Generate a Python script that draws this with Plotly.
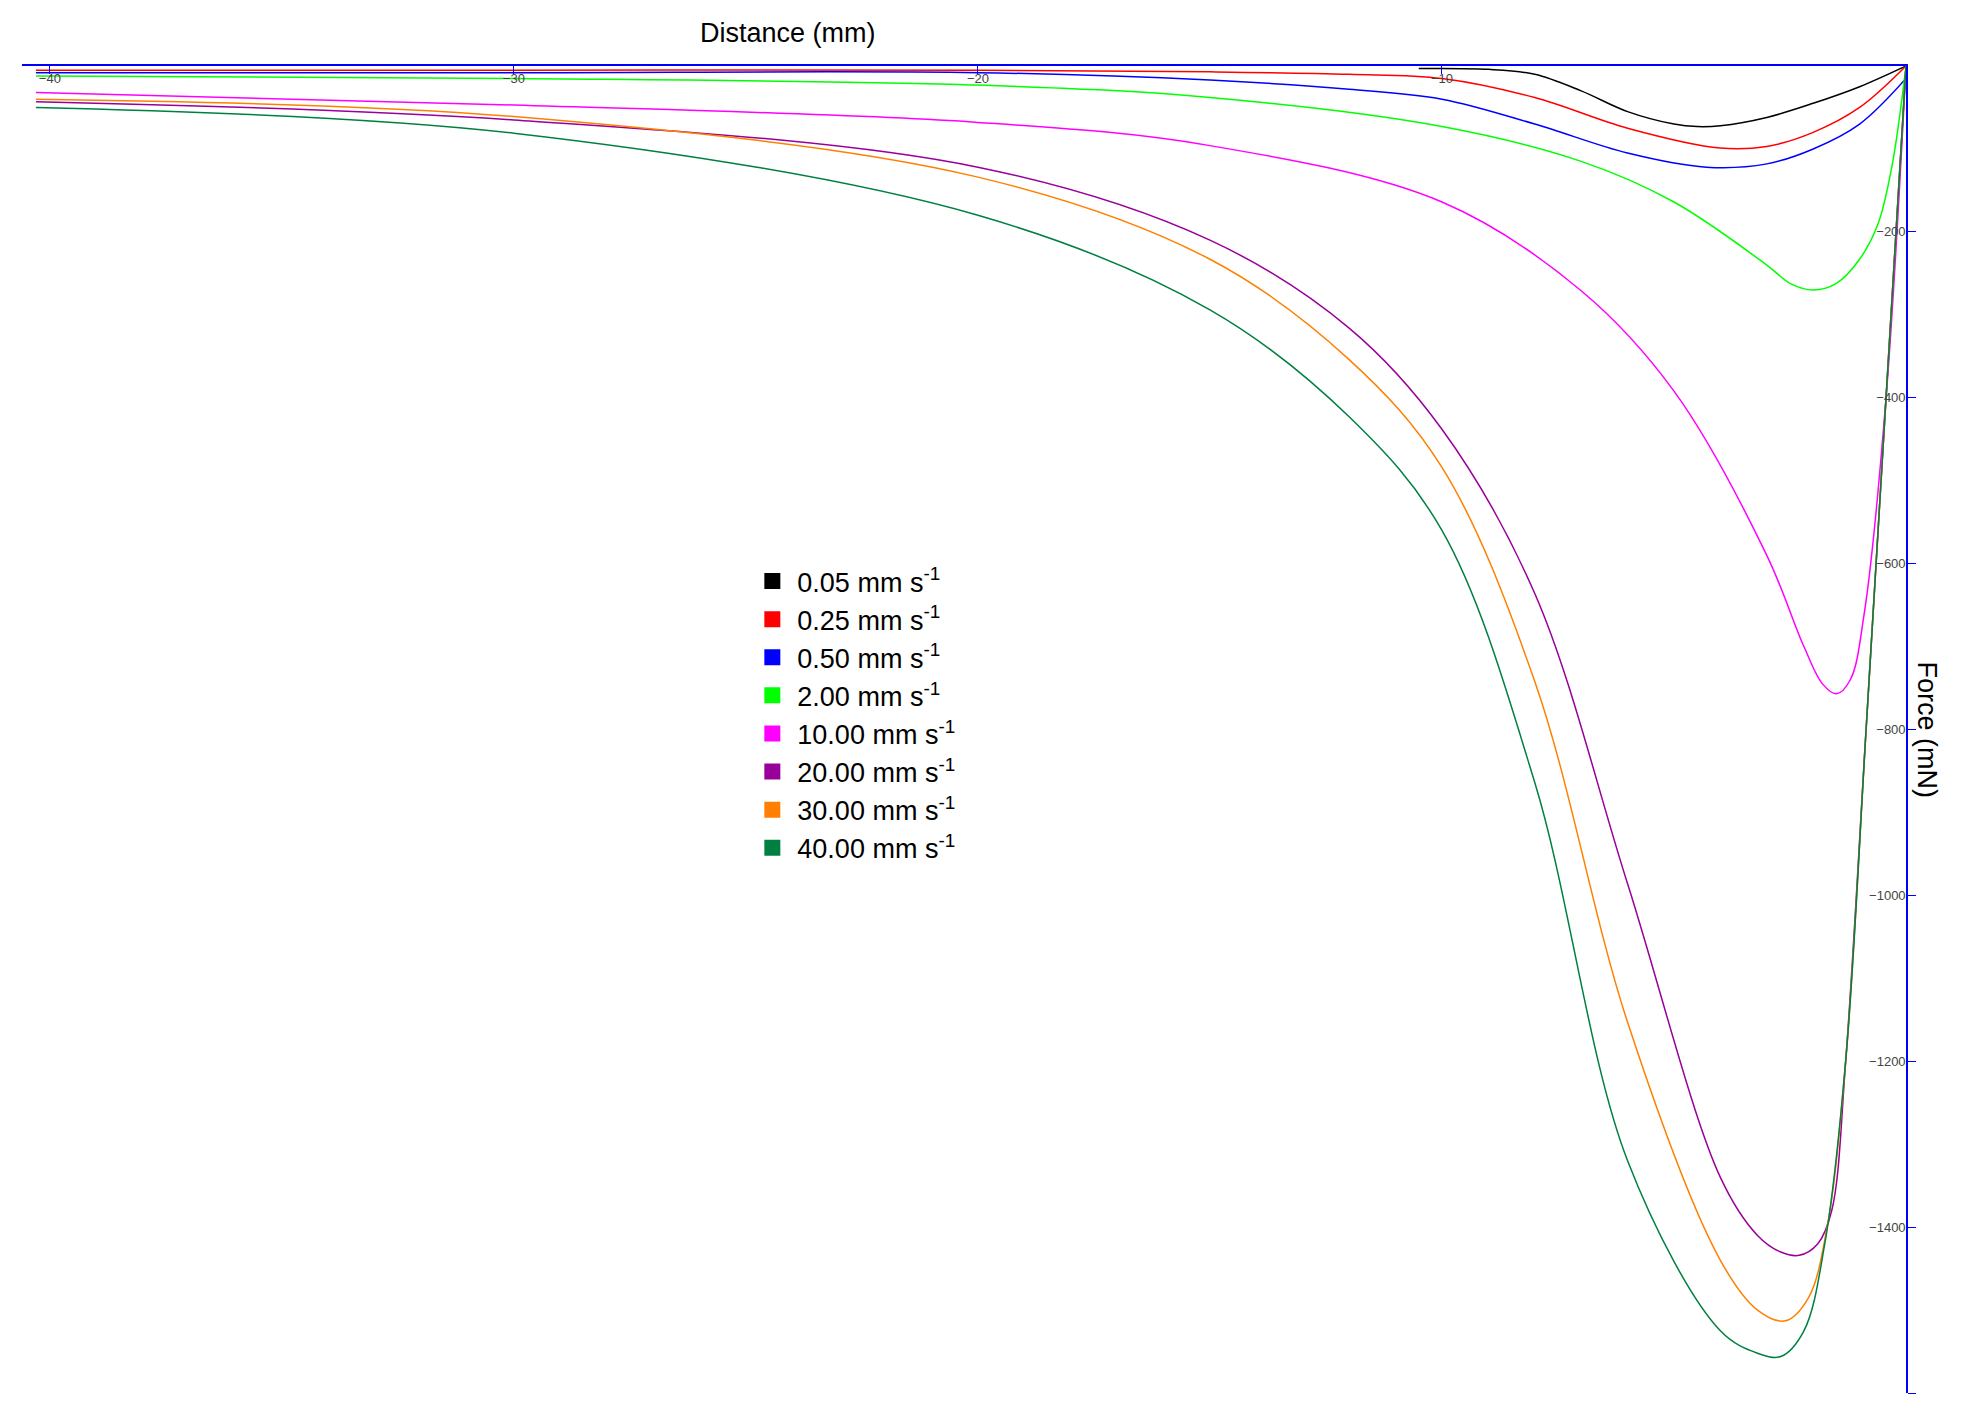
import plotly.graph_objects as go

labels = ["0.05 mm s<sup>-1</sup>", "0.25 mm s<sup>-1</sup>", "0.50 mm s<sup>-1</sup>", "2.00 mm s<sup>-1</sup>",
          "10.00 mm s<sup>-1</sup>", "20.00 mm s<sup>-1</sup>", "30.00 mm s<sup>-1</sup>", "40.00 mm s<sup>-1</sup>"]
colors = ["#000000", "#ff0000", "#0000ff", "#00ff00", "#ff00ff", "#990099", "#ff8000", "#008040"]

x_black = [-10.5, -9, -8, -7, -6, -5, -4.5, -4, -3, -2, -1, 0]
y_black = [-3, -4, -10, -30, -55, -70, -73, -72, -62, -45, -25, 0]
x_red = [-40.3, -30, -20, -15, -12, -10, -8, -6, -4, -3, -2, -1, 0]
y_red = [-5, -5, -5, -7, -10, -15, -38, -75, -99, -97, -80, -50, 0]
x_blue = [-40.3, -30, -20, -15, -12, -10, -8, -6, -4.3, -3, -2, -1, 0]
y_blue = [-8, -8, -8, -17, -28, -40, -70, -105, -122, -118, -100, -70, -15]
x_lime = [-40.3, -30, -20, -15, -10, -7, -5, -3, -2.5, -2, -1.5, -1, -0.6, -0.3, 0]
y_lime = [-12, -15, -23, -38, -73, -115, -164, -240, -262, -270, -262, -233, -190, -120, 0]
x_mag = [-40.3, -30, -20, -15, -10, -7, -5, -3, -2.2, -1.8, -1.5, -1.2, -0.9, -0.43, 0]
y_mag = [-32, -47, -68, -96, -164, -271, -392, -590, -700, -745, -757, -740, -660, -400, 0]
x_pur = [-40.3, -30, -20, -15, -12, -10, -8, -6, -4, -3.2, -2.7, -2.3, -1.9, -1.6, -1.3, -0.86, -0.43, 0]
y_pur = [-43, -65, -122, -210, -316, -438, -636, -986, -1340, -1410, -1430, -1434, -1420, -1380, -1200, -800, -400, 0]
x_ora = [-40.3, -30, -20, -15, -12, -10, -8, -6, -4, -3.2, -2.6, -2.1, -1.7, -1.3, -0.86, -0.43, 0]
y_ora = [-40, -61, -134, -233, -354, -484, -742, -1153, -1440, -1500, -1513, -1485, -1400, -1200, -800, -400, 0]
x_dgr = [-40.3, -30, -20, -15, -12, -10, -8, -6, -4, -3.2, -2.7, -2.2, -1.75, -1.3, -0.86, -0.43, 0]
y_dgr = [-50, -81, -180, -294, -423, -560, -864, -1320, -1525, -1552, -1556, -1525, -1420, -1200, -800, -400, 0]

series = [(x_black, y_black), (x_red, y_red), (x_blue, y_blue), (x_lime, y_lime),
          (x_mag, y_mag), (x_pur, y_pur), (x_ora, y_ora), (x_dgr, y_dgr)]

fig = go.Figure()
for (xs, ys), c in zip(series, colors):
    fig.add_trace(go.Scatter(x=xs, y=ys, mode="lines", line=dict(color=c, width=1.5, shape="spline", smoothing=1.0),
                             showlegend=False))
for lab, c in zip(labels, colors):
    fig.add_trace(go.Scatter(x=[None], y=[None], mode="markers", name=lab,
                             marker=dict(symbol="square", size=34, color=c)))

fig.update_layout(
    width=1976, height=1418, plot_bgcolor="white", paper_bgcolor="white",
    margin=dict(l=14, r=78, t=58, b=33),
    font=dict(family="Liberation Sans, Arial", color="black"),
    legend=dict(x=0.385, y=0.63, xanchor="left", yanchor="top", font=dict(size=27),
                tracegroupgap=0, itemwidth=40, bgcolor="rgba(0,0,0,0)"),
    annotations=[
        dict(text="Distance (mm)", x=(780 - 14) / 1884, y=1, yanchor="middle", yshift=33,
             xref="paper", yref="paper", showarrow=False, font=dict(size=27)),
        dict(text="Force (mN)", x=1, y=0.5, xref="paper", yref="paper", xshift=38, showarrow=False,
             textangle=90, font=dict(size=27)),
    ],
)
fig.update_xaxes(range=[-40.6, 0], side="top", showgrid=False, zeroline=False, showline=True,
                 linecolor="#0000ff", linewidth=2, ticks="inside", tickcolor="#0000ff", ticklen=8,
                 tickvals=[-40, -30, -20, -10, 0], ticklabelposition="inside", tickfont=dict(size=13),
                 mirror=False)
fig.update_yaxes(range=[-1600, 0], side="right", showgrid=False, zeroline=False, showline=True,
                 linecolor="#0000ff", linewidth=2, ticks="outside", tickcolor="#0000ff", ticklen=8,
                 dtick=200, ticklabelposition="inside", tickfont=dict(size=13))
fig.write_html("out.html")
